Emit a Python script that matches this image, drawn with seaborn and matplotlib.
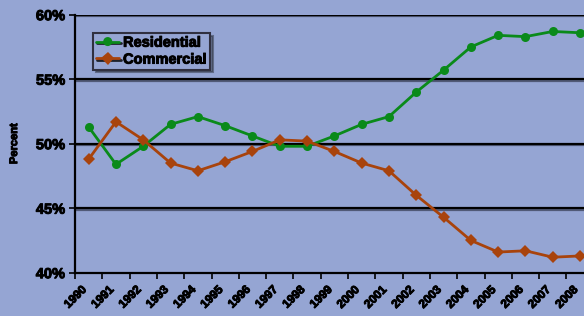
import numpy as np
import pandas as pd
import seaborn as sns
import matplotlib.pyplot as plt
import matplotlib.patheffects as pe
import matplotlib.transforms as mtransforms
from matplotlib.ticker import FixedLocator, PercentFormatter

anos = [str(a) for a in range(1990, 2009)]
residencial = [51.3, 48.4, 49.8, 51.5, 52.1, 51.4, 50.6, 49.8, 49.8, 50.6,
               51.5, 52.1, 54.0, 55.7, 57.5, 58.4, 58.3, 58.7, 58.6]
comercial = [48.8, 51.7, 50.3, 48.5, 47.9, 48.6, 49.4, 50.3, 50.2, 49.4,
             48.5, 47.9, 46.0, 44.3, 42.5, 41.6, 41.7, 41.2, 41.3]

fundo = '#95A5D3'
verde = '#0A8A1A'
marrom = '#A8430C'

df = pd.DataFrame({
    'ano': list(range(len(anos))) * 2,
    'valor': residencial + comercial,
    'serie': ['Residential'] * len(anos) + ['Commercial'] * len(anos),
})

sns.set_style('white')
plt.rcParams['font.family'] = ['Liberation Sans', 'DejaVu Sans']
plt.rcParams['font.weight'] = 'bold'
plt.rcParams['text.color'] = 'black'
plt.rcParams['xtick.color'] = 'black'
plt.rcParams['ytick.color'] = 'black'
plt.rcParams['axes.labelcolor'] = 'black'

# deixa o texto mais "gordo", como no original
grosso = [pe.withStroke(linewidth=0.7, foreground='black')]

fig = plt.figure(figsize=(5.84, 3.16), dpi=100, facecolor=fundo)
ax = fig.add_axes([75 / 584, 43.3 / 316, 518.7 / 584, 258 / 316])
ax.set_facecolor(fundo)

# linhas de grade com sombra
sombra = [pe.SimpleLineShadow(offset=(0, -1.2), shadow_color='#404860', alpha=0.8), pe.Normal()]
for v in [45, 50, 55, 60]:
    ax.axhline(v, color='black', lw=1.6, zorder=1, path_effects=sombra)

sns.lineplot(data=df, x='ano', y='valor', hue='serie', style='serie',
             markers={'Residential': 'o', 'Commercial': 'D'}, dashes=False,
             palette={'Residential': verde, 'Commercial': marrom},
             markersize=6.5, markeredgewidth=0, linewidth=2, ax=ax, zorder=3)

for linha in ax.get_lines()[-2:]:
    linha.set_path_effects([pe.SimpleLineShadow(offset=(1, -1), shadow_color='black', alpha=0.8), pe.Normal()])

ax.set_xlim(-0.5, 18.5)
ax.set_ylim(40, 60)
ax.set_yticks([40, 45, 50, 55, 60])
ax.yaxis.set_major_formatter(PercentFormatter(decimals=0))
ax.set_xticks(range(len(anos)))
ax.set_xticklabels(anos, rotation=45, ha='right', va='top', rotation_mode='anchor')
ax.xaxis.set_minor_locator(FixedLocator(np.arange(-0.5, 19, 1)))

ax.tick_params(axis='x', which='major', length=0, pad=8, labelsize=8.5)
ax.tick_params(axis='x', which='minor', length=4, width=1.2, color='black', direction='out', bottom=True)
ax.tick_params(axis='y', length=4, width=1.2, color='black', direction='out', left=True, labelsize=10.5, pad=3)

desloca = mtransforms.ScaledTranslation(-0.08, 0, fig.dpi_scale_trans)
for rotulo in ax.get_xticklabels():
    rotulo.set_transform(rotulo.get_transform() + desloca)
    rotulo.set_fontweight('bold')
    rotulo.set_path_effects(grosso)
for rotulo in ax.get_yticklabels():
    rotulo.set_fontweight('bold')
    rotulo.set_path_effects(grosso)

for lado in ['top', 'right']:
    ax.spines[lado].set_visible(False)
for lado in ['left', 'bottom']:
    ax.spines[lado].set_color('black')
    ax.spines[lado].set_linewidth(1.6)

ax.set_xlabel('')
ax.set_ylabel('Percent', fontsize=8, fontweight='bold', labelpad=12, path_effects=grosso)

leg = ax.legend(loc='upper left', bbox_to_anchor=(0.035, 0.93), frameon=True, fancybox=False,
                shadow=True, facecolor=fundo, edgecolor='#303040', framealpha=1,
                prop={'weight': 'bold', 'size': 10.5}, handlelength=1.6, handletextpad=0.25,
                borderpad=0.2, labelspacing=0.2, borderaxespad=0)
leg.get_frame().set_linewidth(1.5)
for t in leg.get_texts():
    t.set_path_effects(grosso)

fig.savefig('out.png', dpi=100, facecolor=fundo)
